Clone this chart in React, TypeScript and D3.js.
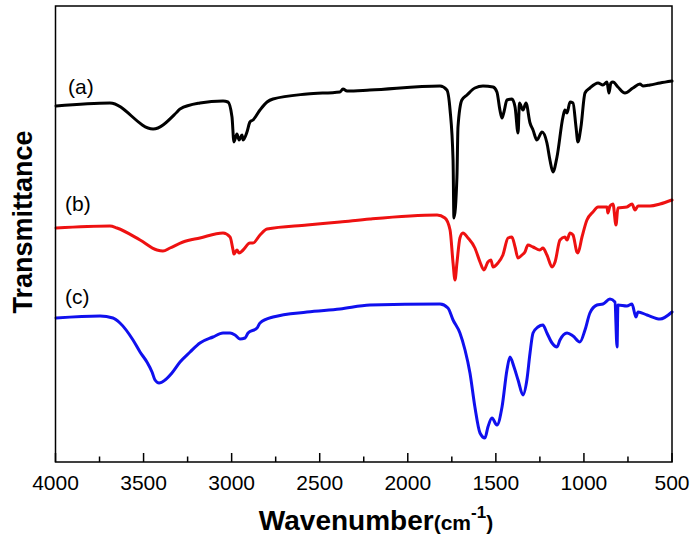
import React from "react";
import * as d3 from "d3";

// Wavenumber (cm-1) and transmittance (a.u., offset curves)
const seriesA: [number, number][] = [
  [3997, 356], [3691, 359], [3446, 333], [3310, 350], [3293, 353], [3180, 359], [3049, 361], [3021, 360],
  [2998, 345], [2987, 320], [2970, 328], [2958, 322], [2941, 327], [2935, 322], [2913, 330], [2896, 340],
  [2879, 342], [2839, 352], [2799, 360], [2765, 363], [2572, 368], [2385, 370], [2368, 373], [2345, 371],
  [2215, 372], [1817, 376], [1778, 372], [1760, 352], [1743, 302], [1738, 244], [1721, 285], [1715, 335],
  [1693, 362], [1664, 367], [1619, 374], [1573, 376], [1516, 375], [1494, 370], [1477, 352], [1465, 344],
  [1454, 350], [1437, 362], [1409, 363], [1391, 355], [1374, 329], [1366, 359], [1346, 352], [1329, 359],
  [1306, 339], [1289, 332], [1267, 322], [1238, 330], [1210, 319], [1193, 302], [1176, 290], [1153, 305],
  [1119, 345], [1108, 352], [1096, 349], [1079, 360], [1062, 359], [1045, 335], [1034, 320], [1017, 335],
  [994, 369], [966, 374], [920, 379], [892, 377], [869, 380], [858, 369], [847, 379], [835, 380],
  [807, 375], [767, 369], [722, 374], [682, 378], [665, 376], [625, 377], [568, 379], [500, 381],
];

const seriesB: [number, number][] = [
  [3997, 234], [3691, 236], [3651, 234], [3520, 222], [3424, 212], [3390, 211], [3350, 214], [3276, 220],
  [3180, 224], [3049, 229], [3009, 225], [2992, 212], [2987, 208], [2970, 212], [2958, 209], [2935, 212],
  [2896, 219], [2879, 219], [2839, 227], [2799, 233], [2572, 237], [2385, 240], [2215, 243], [1834, 247],
  [1789, 244], [1760, 232], [1743, 199], [1732, 182], [1721, 199], [1704, 224], [1687, 229], [1658, 224],
  [1619, 214], [1590, 200], [1568, 192], [1545, 200], [1528, 202], [1516, 195], [1488, 199], [1460, 207],
  [1431, 224], [1409, 225], [1391, 215], [1374, 204], [1352, 207], [1335, 210], [1318, 217], [1289, 215],
  [1250, 212], [1233, 214], [1210, 207], [1181, 195], [1164, 200], [1136, 222], [1108, 225], [1096, 222],
  [1079, 229], [1062, 227], [1040, 210], [1034, 209], [1011, 225], [983, 242], [949, 250], [920, 255],
  [869, 255], [864, 249], [852, 256], [835, 258], [818, 237], [807, 254], [756, 255], [727, 258],
  [710, 252], [693, 256], [625, 256], [568, 258], [500, 262],
];

const seriesC: [number, number][] = [
  [3997, 144], [3747, 146], [3674, 144], [3634, 139], [3560, 122], [3520, 110], [3481, 100], [3452, 90],
  [3435, 82], [3412, 79], [3378, 82], [3339, 89], [3293, 100], [3236, 110], [3180, 119], [3106, 125],
  [3049, 129], [3009, 129], [2981, 127], [2953, 123], [2924, 124], [2907, 129], [2856, 134], [2839, 139],
  [2765, 145], [2572, 150], [2385, 153], [2215, 157], [1817, 158], [1772, 154], [1743, 142], [1704, 129],
  [1675, 112], [1647, 89], [1619, 55], [1590, 29], [1562, 24], [1545, 35], [1522, 44], [1494, 37],
  [1465, 55], [1437, 92], [1420, 105], [1397, 95], [1374, 82], [1346, 67], [1324, 82], [1306, 109],
  [1289, 129], [1261, 135], [1233, 137], [1210, 129], [1181, 119], [1153, 115], [1136, 122], [1096, 129],
  [1062, 126], [1023, 120], [994, 132], [966, 149], [926, 157], [892, 158], [852, 163], [824, 160],
  [812, 115], [807, 157], [756, 156], [727, 158], [705, 145], [693, 150], [642, 147], [568, 143], [500, 150],
];

const seriesColors = ["#000000", "#ee1111", "#1010ee"];
const seriesLabels = ["(a)", "(b)", "(c)"];
const xTicks = [4000, 3500, 3000, 2500, 2000, 1500, 1000, 500];
const xMinorTicks = [3750, 3250, 2750, 2250, 1750, 1250, 750];

const W = 695;
const H = 550;
const left = 55.5;
const right = 672;
const top = 6;
const bottom = 462;

export default function App() {
  const x = d3.scaleLinear().domain([4000, 500]).range([left, right]);
  const y = d3.scaleLinear().domain([0, 456]).range([bottom, top]);
  const line = d3
    .line<[number, number]>()
    .x((d) => x(d[0]))
    .y((d) => y(d[1]))
    .curve(d3.curveMonotoneX);

  const all = [seriesA, seriesB, seriesC];
  const labelPos = [
    { x: 68, y: 94 },
    { x: 65, y: 211 },
    { x: 65, y: 304 },
  ];

  return (
    <svg
      width={W}
      height={H}
      style={{ position: "absolute", left: 0, top: 0, background: "#fff" }}
      fontFamily="Liberation Sans, Arial, sans-serif"
    >
      <rect x={0} y={0} width={W} height={H} fill="#fff" />
      {all.map((s, i) => (
        <path
          key={i}
          d={line(s) || ""}
          fill="none"
          stroke={seriesColors[i]}
          strokeWidth={3}
          strokeLinejoin="round"
          strokeLinecap="round"
        />
      ))}
      <rect
        x={left}
        y={top}
        width={right - left}
        height={bottom - top}
        fill="none"
        stroke="#000"
        strokeWidth={1.5}
      />
      {xTicks.map((t) => (
        <g key={t}>
          <line x1={x(t)} x2={x(t)} y1={bottom} y2={bottom - 9} stroke="#000" strokeWidth={1.5} />
          <text x={x(t)} y={490} fontSize={21} textAnchor="middle" fill="#000">
            {t}
          </text>
        </g>
      ))}
      {xMinorTicks.map((t) => (
        <line key={t} x1={x(t)} x2={x(t)} y1={bottom} y2={bottom - 5.5} stroke="#000" strokeWidth={1.5} />
      ))}
      {seriesLabels.map((l, i) => (
        <text key={l} x={labelPos[i].x} y={labelPos[i].y} fontSize={21} fill="#000">
          {l}
        </text>
      ))}
      <text x={376} y={530} textAnchor="middle" fill="#000">
        <tspan fontSize={28} fontWeight="bold">Wavenumber</tspan>
        <tspan fontSize={21} fontWeight="bold">(cm</tspan>
        <tspan fontSize={17} fontWeight="bold" dy={-12}>-1</tspan>
        <tspan fontSize={21} fontWeight="bold" dy={12}>)</tspan>
      </text>
      <text
        transform={`translate(32, 222) rotate(-90)`}
        textAnchor="middle"
        fontSize={27}
        fontWeight="bold"
        fill="#000"
      >
        Transmittance
      </text>
    </svg>
  );
}
